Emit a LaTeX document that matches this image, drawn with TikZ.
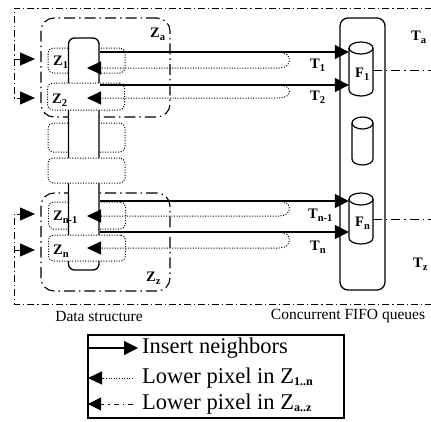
\documentclass[tikz,border=0pt]{standalone}
\usepackage{fontspec}
\setmainfont{Liberation Serif}
\usetikzlibrary{arrows.meta}
\newcommand\mysub[1]{\raisebox{-3pt}{\fontsize{10.5}{10.5}\selectfont #1}}
\newcommand\legsub[1]{\raisebox{-2pt}{\fontsize{12}{12}\selectfont\bfseries #1}}
\newcommand\drawcyl[5]{%
  \node[minimum width={2*#5}, minimum height={#4-#3}, inner sep=0] (#1) at (#2,{(#3+#4)/2}) {};
  \draw[cylline, fill=white] (#2-#5,#3+6) -- (#2-#5,#4-6)
     arc[start angle=180, end angle=0, x radius=#5, y radius=6]
     -- (#2+#5,#3+6)
     arc[start angle=0, end angle=-180, x radius=#5, y radius=6] -- cycle;
  \draw[cylline] (#2-#5,#3+6) arc[start angle=180, end angle=0, x radius=#5, y radius=6];
}
\begin{document}
\begin{tikzpicture}[x=1pt,y=-1pt,
  frame/.style={line width=1pt, dash pattern=on 7pt off 3pt on 1.2pt off 3pt},
  tailline/.style={line width=1pt, dash pattern=on 9pt off 4pt on 1.2pt off 4pt},
  zreg/.style={draw, line width=1.1pt, rounded corners=13pt, dash pattern=on 11pt off 4pt on 1.5pt off 4pt, inner sep=0},
  zbox/.style={draw, line width=1pt, dash pattern=on 1pt off 1.6pt, rounded corners=5pt, inner sep=0, minimum width=77pt},
  solidbox/.style={draw, line width=1.3pt, inner sep=0},
  cylline/.style={line width=1.2pt},
  ins/.style={line width=1.3pt, -{Triangle[length=14pt,width=14pt]}},
  low/.style={line width=1pt, dash pattern=on 1pt off 1.6pt, -{Triangle[length=14pt,width=13pt]}},
  lowz/.style={line width=1pt, dash pattern=on 5pt off 4pt on 1.5pt off 4pt, -{Triangle[length=13pt,width=13pt]}},
  side/.style={frame, -{Triangle[length=15pt,width=13pt]}},
  lbl/.style={font=\fontsize{14.5}{14.5}\selectfont\bfseries, inner sep=0, anchor=base west},
  captxt/.style={font=\fontsize{15.5}{16}\selectfont, inner sep=0},
  leg/.style={font=\fontsize{22.5}{24}\selectfont, inner sep=0, anchor=base west}
]
\useasboundingbox (0,0) rectangle (431,421);

% region boxes
\node[zreg, minimum width=129pt, minimum height=99pt] (za) at (105.5,67.5) {};
\node[zreg, minimum width=129pt, minimum height=98pt] (zz) at (105.5,242) {};

% outer frame with side arrows
\coordinate (a1) at (35,59);
\coordinate (a2) at (35,98);
\coordinate (a3) at (35,214);
\coordinate (a4) at (35,250);
\coordinate (tr) at (432,8);
\coordinate (br) at (432,304);
\draw[side] (tr) -- (14,8) -- (14,98) -- (a2);
\draw[side] (14,59) -- (a1);
\draw[side] (br) -- (14,304) -- (14,214) -- (a3);
\draw[side] (14,250) -- (a4);

% dotted boxes below the column
\node[zbox, minimum height=25pt] (z1) at (86.5,60.5) {};
\node[zbox, minimum height=29pt] (b3) at (86.5,137.5) {};
\node[zbox, minimum height=27pt] (zn1) at (87,215.5) {};

% data structure column
\node[solidbox, fill=white, rounded corners=6pt, minimum width=30.5pt, minimum height=232pt] (ds) at (83.75,154) {};

% dotted boxes above the column
\node[zbox, fill=white, minimum height=27pt] (z2) at (86,96.5) {};
\node[zbox, fill=white, minimum height=25pt] (b4) at (86.5,170.5) {};
\node[zbox, fill=white, minimum height=26pt] (zn) at (87,248) {};

% queue container and cylinders
\node[solidbox, rounded corners=8pt, minimum width=45pt, minimum height=272pt] (q) at (362.5,154) {};
\drawcyl{f1}{361}{42}{96}{12}
\drawcyl{fm}{362.5}{117}{165}{10.5}
\drawcyl{fn}{361}{193}{244}{12}

% lines from the queues to the frame
\coordinate (ta) at (432,70);
\coordinate (tz) at (432,219);
\draw[tailline] (f1.east |- ta) -- (ta);
\draw[tailline] (fn.east |- tz) -- (tz);

% labels
\node[lbl] (lz1) at (53,65) {Z\mysub{1}};
\node[lbl] (lz2) at (52,103) {Z\mysub{2}};
\node[lbl] (lzn1) at (53,220) {Z\mysub{n-1}};
\node[lbl] (lzn) at (53,254) {Z\mysub{n}};
\node[lbl] (lza) at (150,37) {Z\mysub{a}};
\node[lbl] (lzz) at (146,281) {Z\mysub{z}};
\node[lbl] (lt1) at (310,68) {T\mysub{1}};
\node[lbl] (lt2) at (310,100) {T\mysub{2}};
\node[lbl] (ltn1) at (308,218) {T\mysub{n-1}};
\node[lbl] (ltn) at (310,250) {T\mysub{n}};
\node[lbl] (lta) at (411,40) {T\mysub{a}};
\node[lbl] (ltz) at (413,267) {T\mysub{z}};
\node[lbl] (lf1) at (355,77) {F\mysub{1}};
\node[lbl] (lfn) at (355,226) {F\mysub{n}};

% insert arrows
\draw[ins] (ds.east |- 0,52) -- (f1.west |- 0,52);
\draw[ins] (ds.east |- 0,85) -- (f1.west |- 0,85);
\draw[ins] (ds.east |- 0,201) -- (fn.west |- 0,201);
\draw[ins] (ds.east |- 0,232) -- (fn.west |- 0,232);

% lower pixel arrows (dotted, U-turn)
\coordinate (r1) at (87,68);
\coordinate (r2) at (87,98);
\coordinate (r3) at (87,216);
\coordinate (r4) at (87,248);
\draw[low] (279,52) .. controls (293,52) and (293,68) .. (279,68) -- (r1);
\draw[low] (279,85) .. controls (293,85) and (293,98) .. (279,98) -- (r2);
\draw[low] (279,201) .. controls (293,201) and (293,216) .. (279,216) -- (r3);
\draw[low] (279,232) .. controls (293,232) and (293,248) .. (279,248) -- (r4);

% captions
\node[captxt] (cds) at (99,316) {Data structure};
\node[captxt] (cq) at (348,316) {Concurrent FIFO queues};

% legend
\node[solidbox, line width=1.2pt, minimum width=256pt, minimum height=83pt] (lg) at (216,376.5) {};
\coordinate (l1a) at (88,348);
\coordinate (l1b) at (138,348);
\coordinate (l2a) at (133,378);
\coordinate (l2b) at (88,378);
\coordinate (l3a) at (133,404);
\coordinate (l3b) at (88,404);
\draw[ins] (l1a) -- (l1b);
\draw[low] (l2a) -- (l2b);
\draw[lowz] (l3a) -- (l3b);
\node[leg] (t1) at (142,353) {Insert neighbors};
\node[leg] (t2) at (142,383) {Lower pixel in Z\legsub{1..n}};
\node[leg] (t3) at (142,409) {Lower pixel in Z\legsub{a..z}};
\end{tikzpicture}
\end{document}
